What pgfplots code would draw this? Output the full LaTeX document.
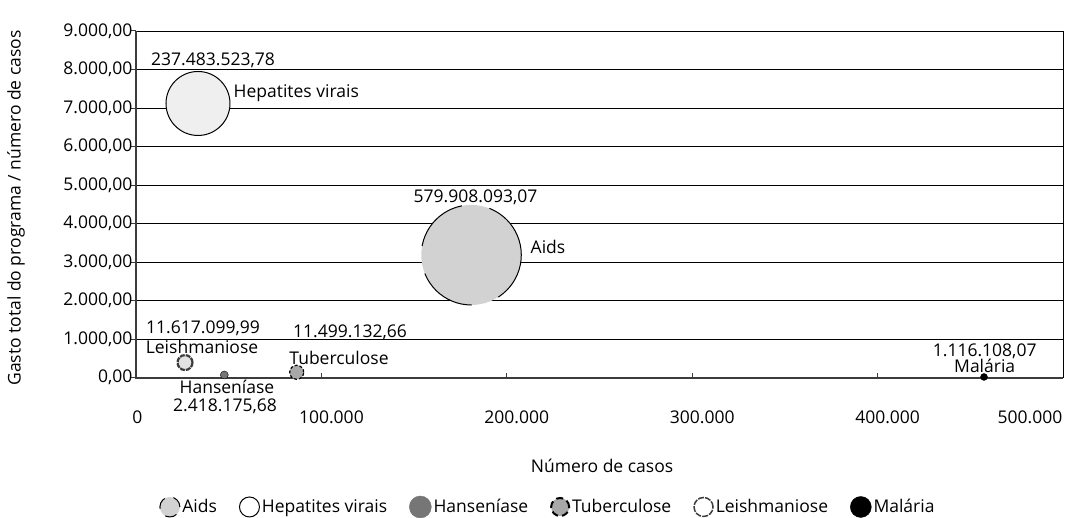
\documentclass[border=0pt]{standalone}
\usepackage{fontspec}
\setmainfont{Open Sans}
\usepackage{pgfplots}
\pgfplotsset{compat=1.18}
\definecolor{aidsfill}{HTML}{D2D2D2}
\definecolor{hepfill}{HTML}{EFEFEF}
\definecolor{hanfill}{HTML}{767676}
\definecolor{tubfill}{HTML}{A8A8A8}
\definecolor{leifill}{HTML}{E2E2E2}
\definecolor{axgray}{HTML}{3C3C3C}
\newcommand\fs{\fontsize{17.5}{21}\selectfont}
\begin{document}
\begin{tikzpicture}[x=1pt,y=1pt,font=\fs]
\path[use as bounding box] (0,0) rectangle (1066,518);
\begin{axis}[
  at={(136pt,140.4pt)}, anchor=south west,
  scale only axis, width=927pt, height=346.6pt,
  xmin=0, xmax=500000, ymin=0, ymax=9000,
  clip=false,
  scaled x ticks=false, scaled y ticks=false,
  axis line style={black, line width=0.8pt},
  ymajorgrids, major grid style={black, line width=0.8pt},
  xtick={0,100000,200000,300000,400000,500000},
  xticklabels={0\hspace*{17pt}, 100.000, 200.000, 300.000, 400.000, 500.000\hspace*{86pt}},
  ytick={0,1000,...,9000},
  xtick pos=bottom, ytick pos=left,
  tick align=inside, major tick length=5pt,
  tick style={axgray, line width=1pt},
  ytick style={xshift=-5pt},
  x tick label style={xshift=10pt, yshift=-30pt},
  yticklabel style={/pgf/number format/.cd, fixed, fixed zerofill, precision=2, use comma, 1000 sep={.}},
  /pgf/number format/assume math mode=true,
  tick label style={font=\fs, text=black},
  legend columns=6,
  legend style={at={(0.4444,-0.3733)}, anchor=center, draw=none, fill=none, font=\fs,
    inner sep=0pt,
    /tikz/every even column/.append style={column sep=20pt}},
  legend cell align=left,
]
% Aids
\addplot[only marks, mark=*, mark size=50pt,
  mark options={fill=aidsfill, draw=black, line width=1pt, dash pattern=on 60pt off 28pt},
  legend image code/.code={\draw[fill=aidsfill, draw=black, line width=1pt, dash pattern=on 12pt off 9pt] (10pt,0pt) circle (10pt);}]
  coordinates {(180850,3184)};
\addlegendentry{Aids}
% Hepatites virais
\addplot[only marks, mark=*, mark size=32pt,
  mark options={fill=hepfill, draw=black, line width=1pt, solid},
  legend image code/.code={\draw[fill=white, draw=black, line width=1pt] (10pt,0pt) circle (10pt);}]
  coordinates {(33440,7118)};
\addlegendentry{Hepatites virais}
% Hanseniase
\addplot[only marks, mark=*, mark size=4pt,
  mark options={fill=hanfill, draw=none},
  legend image code/.code={\fill[hanfill] (10pt,0pt) circle (11pt);}]
  coordinates {(47626,68)};
\addlegendentry{Hanseníase}
% Tuberculose
\addplot[only marks, mark=*, mark size=7pt,
  mark options={fill=tubfill, draw=black, line width=1.2pt, dash pattern=on 3pt off 2pt},
  legend image code/.code={\draw[fill=tubfill, draw=black, line width=2pt, dash pattern=on 7pt off 4pt] (10pt,0pt) circle (9pt);}]
  coordinates {(86676,138)};
\addlegendentry{Tuberculose}
% Leishmaniose
\addplot[only marks, mark=*, mark size=7.5pt,
  mark options={fill=leifill, draw=axgray, line width=2.2pt, dash pattern=on 5pt off 1pt},
  legend image code/.code={\draw[fill=white, draw=axgray, line width=1.5pt, dash pattern=on 6pt off 1.2pt] (10pt,0pt) circle (9.5pt);}]
  coordinates {(26430,390)};
\addlegendentry{Leishmaniose}
% Malaria
\addplot[only marks, mark=*, mark size=3.5pt,
  mark options={fill=black, draw=black},
  legend image code/.code={\fill[black] (10pt,0pt) circle (10.5pt);}]
  coordinates {(457390,16)};
\addlegendentry{Malária}

\draw[axgray, line width=2pt] (rel axis cs:0,1) -- (rel axis cs:0,0) -- (rel axis cs:1,0);

\begin{scope}[every node/.style={inner sep=0.5pt}]
\node at (axis cs:41532,8248) {237.483.523,78};
\node[anchor=west] at (axis cs:52319,7389) {Hepatites virais};
\node at (axis cs:183116,4690) {579.908.093,07};
\node[anchor=west] at (axis cs:212519,3392) {Aids};
\node at (axis cs:36138,1288) {11.617.099,99};
\node at (axis cs:35598,794) {Leishmaniose};
\node at (axis cs:115426,1184) {11.499.132,66};
\node at (axis cs:109492,509) {Tuberculose};
\node at (axis cs:49083,-250) {Hanseníase};
\node at (axis cs:48004,-740) {2.418.175,68};
\node at (axis cs:457763,690) {1.116.108,07};
\node at (axis cs:457763,300) {Malária};
\end{scope}
\end{axis}
\node[font=\fs] at (602,52) {Número de casos};
\node[font=\fs, rotate=90] at (16,310) {Gasto total do programa / número de casos};
\end{tikzpicture}
\end{document}
